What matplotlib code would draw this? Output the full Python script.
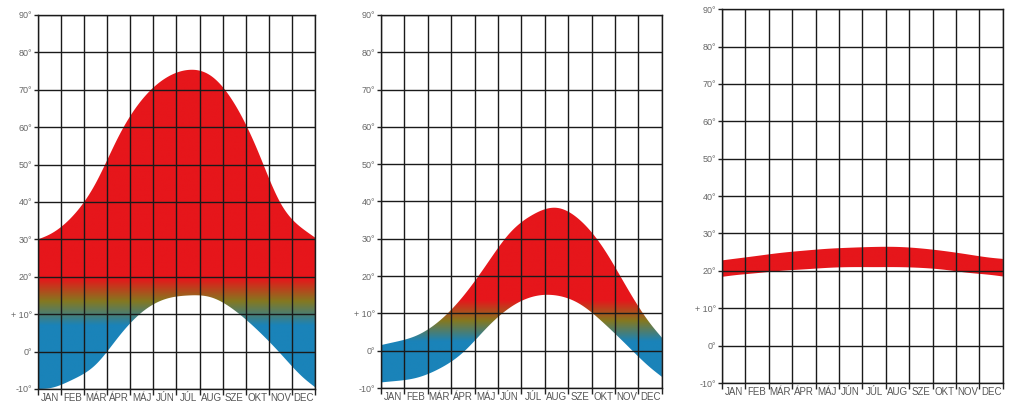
import numpy as np
import matplotlib
matplotlib.use("Agg")
import matplotlib.pyplot as plt
from matplotlib.patches import Polygon
from matplotlib.colors import to_rgb

months = ["JAN", "FEB", "MÁR", "ÁPR", "MÁJ", "JÚN", "JÚL", "AUG", "SZE", "OKT", "NOV", "DEC"]
y_ticks = [-10, 0, 10, 20, 30, 40, 50, 60, 70, 80, 90]
y_labels = ["-10°", "0°", "+ 10°", "20°", "30°", "40°", "50°", "60°", "70°", "80°", "90°"]

# Panel 1 (values at month centres, plus values at the year's start/end edges)
p1_upper = [31.3, 36.2, 45, 57.6, 67.3, 73, 75.3, 73.7, 66.4, 54, 39.8, 32.7]
p1_upper_edges = (30, 30.5)
p1_lower = [-9.8, -7.5, -3.5, 4, 10.5, 14, 15, 14.5, 11.1, 5.8, -0.5, -7]
p1_lower_edges = (-10, -9.5)

# Panel 2
p2_upper = [2.2, 4, 8, 14.5, 23, 31.5, 36.5, 38.3, 35, 27.5, 17, 7.3]
p2_upper_edges = (1.5, 3.5)
p2_lower = [-8.2, -7.3, -4.8, -0.5, 6, 11.5, 14.5, 14.8, 12.5, 7.5, 1.5, -4.5]
p2_lower_edges = (-8.5, -7)

# Panel 3
p3_upper = [23.2, 24, 24.8, 25.4, 25.9, 26.2, 26.4, 26.4, 26, 25.3, 24.4, 23.5]
p3_upper_edges = (22.8, 23.2)
p3_lower = [18.8, 19.4, 20, 20.4, 20.8, 21, 21, 21, 20.8, 20.3, 19.5, 18.9]
p3_lower_edges = (18.4, 18.5)

RED = "#e6161b"
OLIVE = "#85781f"
BLUE = "#1a83b9"

gradients = [
    [(7, BLUE), (13.5, OLIVE), (19.5, RED)],
    [(2.5, BLUE), (8, OLIVE), (13.5, RED)],
    [(0, RED), (90, RED)],
]

positions = [
    [0.0371, 0.0627, 0.2705, 0.9012],
    [0.3720, 0.0650, 0.2744, 0.8990],
    [0.7050, 0.0770, 0.2744, 0.9010],
]


def smooth(x, y, n=500):
    """Natural cubic spline through (x, y) for drawing."""
    x = np.asarray(x, float)
    y = np.asarray(y, float)
    N = len(x)
    h = np.diff(x)
    A = np.zeros((N, N))
    r = np.zeros(N)
    A[0, 0] = 1
    A[-1, -1] = 1
    for i in range(1, N - 1):
        A[i, i - 1] = h[i - 1]
        A[i, i] = 2 * (h[i - 1] + h[i])
        A[i, i + 1] = h[i]
        r[i] = 6 * ((y[i + 1] - y[i]) / h[i] - (y[i] - y[i - 1]) / h[i - 1])
    M = np.linalg.solve(A, r)
    xs = np.linspace(x[0], x[-1], n)
    idx = np.clip(np.searchsorted(x, xs) - 1, 0, N - 2)
    hi = h[idx]
    a = x[idx + 1] - xs
    b = xs - x[idx]
    ys = (M[idx] * a**3 / (6 * hi) + M[idx + 1] * b**3 / (6 * hi)
          + (y[idx] / hi - M[idx] * hi / 6) * a
          + (y[idx + 1] / hi - M[idx + 1] * hi / 6) * b)
    return xs, ys


fig = plt.figure(figsize=(10.24, 4.15), dpi=100)
fig.patch.set_facecolor("white")

panels = [
    (p1_upper, p1_upper_edges, p1_lower, p1_lower_edges),
    (p2_upper, p2_upper_edges, p2_lower, p2_lower_edges),
    (p3_upper, p3_upper_edges, p3_lower, p3_lower_edges),
]

xc = np.concatenate([[0.0], np.arange(12) + 0.5, [12.0]])

for k, (up, upe, lo, loe) in enumerate(panels):
    ax = fig.add_axes(positions[k])
    ax.set_xlim(0, 12)
    ax.set_ylim(-10, 90)

    yu = np.concatenate([[upe[0]], up, [upe[1]]])
    yl = np.concatenate([[loe[0]], lo, [loe[1]]])
    xs, su = smooth(xc, yu)
    _, sl = smooth(xc, yl)

    verts = np.vstack([np.column_stack([xs, su]), np.column_stack([xs[::-1], sl[::-1]])])
    poly = Polygon(verts, closed=True, facecolor="none", edgecolor="none")
    ax.add_patch(poly)

    stops = gradients[k]
    yy = np.linspace(-10, 90, 1200)
    sv = [s[0] for s in stops]
    cols = np.array([to_rgb(s[1]) for s in stops])
    rgb = np.stack([np.interp(yy, sv, cols[:, c]) for c in range(3)], axis=-1)
    img = ax.imshow(rgb[:, None, :], extent=[0, 12, -10, 90], origin="lower",
                    aspect="auto", zorder=1, interpolation="bilinear")
    img.set_clip_path(poly)

    ax.set_xticks(np.arange(13))
    ax.set_xticklabels([])
    ax.set_xticks(np.arange(12) + 0.5, minor=True)
    ax.set_xticklabels(months, minor=True, fontsize=7, color="#555555",
                       family=["Liberation Sans Narrow", "Liberation Sans", "DejaVu Sans"])
    ax.tick_params(axis="x", which="major", length=4, width=1.0, color="#222222")
    ax.tick_params(axis="x", which="minor", length=0, pad=3)

    ax.set_yticks(y_ticks)
    ax.set_yticklabels(y_labels, fontsize=6.5, color="#666666",
                       family=["Liberation Sans", "DejaVu Sans"])
    ax.tick_params(axis="y", length=3, width=1.0, color="#222222", pad=1)

    ax.set_axisbelow(False)
    ax.grid(True, which="major", color="#1a1a1a", linewidth=1.0)
    for sp in ax.spines.values():
        sp.set_color("#1a1a1a")
        sp.set_linewidth(1.0)

fig.savefig("out.png", dpi=100, facecolor="white")
